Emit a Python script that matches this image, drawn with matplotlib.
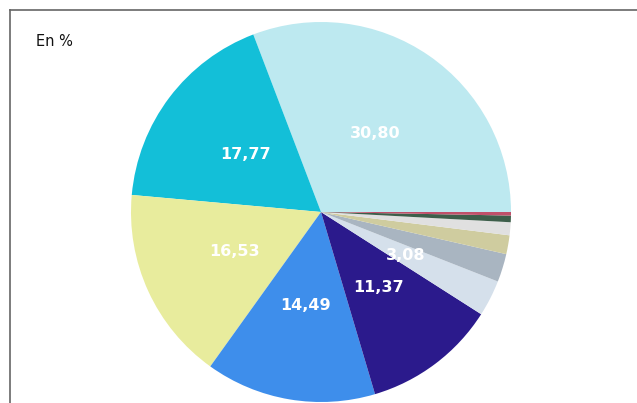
import numpy as np
import matplotlib
matplotlib.use("Agg")
import matplotlib.pyplot as plt
from matplotlib.lines import Line2D

# slice values in %, counterclockwise from 3 o'clock
values = [30.80, 17.77, 16.53, 14.49, 11.37, 3.08, 2.40, 1.60, 1.10, 0.56, 0.30]
colors = ["#BDE9F0", "#13BFD8", "#E8EC9D", "#3E8EEB", "#2B1A8C",
          "#D5E0EB", "#A9B5C1", "#CFCC9F", "#E0E0E0", "#3D5E4A", "#C0506A"]
unit_label = "En %"


def fmt_pct(p):
    # only the larger slices carry a label, French decimal comma
    if p < 3.0:
        return ""
    return f"{p:.2f}".replace(".", ",")


fig = plt.figure(figsize=(6.37, 4.03), dpi=100)
ax = fig.add_axes([131 / 637, 1 / 403, 380 / 637, 380 / 403])

wedges, texts, autotexts = ax.pie(
    values, colors=colors, startangle=0, counterclock=True,
    autopct=fmt_pct, pctdistance=0.5, radius=1.0,
    wedgeprops=dict(linewidth=0),
)
for t in autotexts:
    t.set_color("white")
    t.set_fontsize(11.5)
    t.set_fontweight("bold")

ax.set_xlim(-1, 1)
ax.set_ylim(-1, 1)
ax.set_aspect("equal")
ax.axis("off")

# chart frame: left and top edges only
fig.add_artist(Line2D([10 / 637, 10 / 637], [0, 1 - 10 / 403],
                      transform=fig.transFigure, color="#666666", lw=1.2))
fig.add_artist(Line2D([10 / 637, 1], [1 - 10 / 403, 1 - 10 / 403],
                      transform=fig.transFigure, color="#666666", lw=1.2))

fig.text(36 / 637, 1 - 42 / 403, unit_label, fontsize=10.5, va="center", ha="left",
         color="#111111")

fig.savefig("out.png", dpi=100)
